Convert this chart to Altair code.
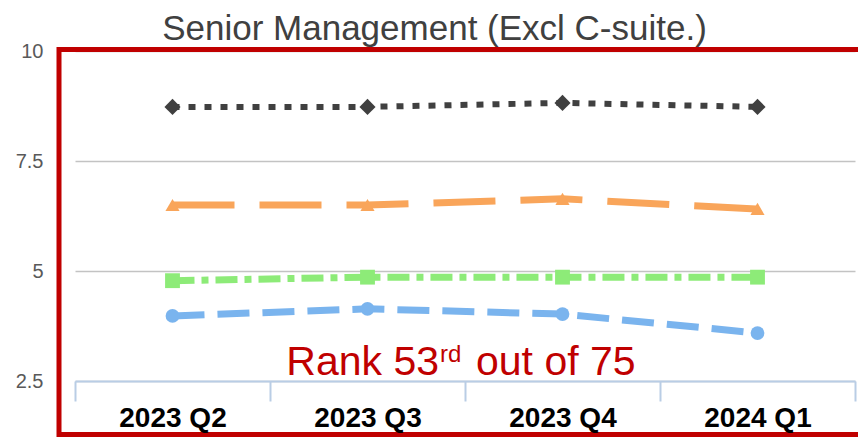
import altair as alt
import pandas as pd

# ---- data ----
quarters = ["2023 Q2", "2023 Q3", "2023 Q4", "2024 Q1"]
series_names = ["Series A", "Series B", "Series C", "Series D"]
series_a = [8.73, 8.73, 8.82, 8.73]
series_b = [6.50, 6.50, 6.64, 6.41]
series_c = [4.78, 4.86, 4.86, 4.86]
series_d = [3.98, 4.14, 4.02, 3.59]
y_ticks = [2.5, 5, 7.5, 10]
rank = 53
rank_total = 75
title_text = "Senior Management (Excl C-suite.)"

# ---- styles ----
colors = ["#404040", "#F9A55A", "#8DEB78", "#7AB4EE"]
dashes = [[7, 9], [62, 25], [22, 7, 7, 7], [32, 13]]
shapes = ["diamond", "triangle-up", "square", "circle"]
widths = [6, 7, 7, 7]
sizes = [260, 200, 220, 190]

FONT = "Liberation Sans"
RED = "#C00000"

df = pd.DataFrame({
    "quarter": quarters * 4,
    "series": [s for s in series_names for _ in quarters],
    "value": series_a + series_b + series_c + series_d,
})

x_enc = alt.X(
    "quarter:N", sort=quarters,
    scale=alt.Scale(type="band", paddingInner=0, paddingOuter=0),
    axis=alt.Axis(title=None, tickBand="extent", domainColor="#B9CDE5", domainWidth=2,
                  tickColor="#B9CDE5", tickWidth=2, tickSize=20, labelFont=FONT,
                  labelFontSize=28, labelFontWeight="bold", labelColor="#000000",
                  labelPadding=3, labelAngle=0, labelBaseline="top", zindex=1),
)
y_enc = alt.Y(
    "value:Q",
    scale=alt.Scale(domain=[2.5, 10], nice=False, zero=False),
    axis=alt.Axis(title=None, values=y_ticks, format=".1~f", domain=False, ticks=False,
                  grid=True, gridColor="#C3C3C3", gridWidth=1.5, labelFont=FONT,
                  labelFontSize=20, labelColor="#595959", labelPadding=32,
                  labelFlush=False, labelOverlap=False),
)

base = alt.Chart(df).encode(x=x_enc, y=y_enc)

layers = []
for name, c, d, sh, w, sz in zip(series_names, colors, dashes, shapes, widths, sizes):
    sub = base.transform_filter(alt.datum.series == name)
    layers.append(sub.mark_line(color=c, strokeWidth=w, strokeDash=d, strokeCap="butt"))
    layers.append(sub.mark_point(shape=sh, filled=True, size=sz, color=c, opacity=1))

one = pd.DataFrame({"k": [0]})
ttl = pd.DataFrame({"t": [title_text]})
txt = pd.DataFrame({"t": [f"Rank {rank}"]})
sup = pd.DataFrame({"t": ["rd"]})
rest = pd.DataFrame({"t": [f"out of {rank_total}"]})

title_mark = alt.Chart(ttl).mark_text(font=FONT, fontSize=35, color="#404040", align="center",
                                      baseline="alphabetic").encode(
    text="t:N", x=alt.value(359.5), y=alt.value(-11))
rank_main = alt.Chart(txt).mark_text(font=FONT, fontSize=41, color=RED, align="right",
                                     baseline="alphabetic").encode(
    text="t:N", x=alt.value(364), y=alt.value(324))
rank_sup = alt.Chart(sup).mark_text(font=FONT, fontSize=24, color=RED, align="left",
                                    baseline="alphabetic").encode(
    text="t:N", x=alt.value(365), y=alt.value(311))
rank_rest = alt.Chart(rest).mark_text(font=FONT, fontSize=41, color=RED, align="left",
                                      baseline="alphabetic").encode(
    text="t:N", x=alt.value(401), y=alt.value(324))

border = alt.Chart(one).mark_rect(filled=False, stroke=RED, strokeWidth=5).encode(
    x=alt.value(-16), x2=alt.value(786), y=alt.value(-1.5), y2=alt.value(383.5))

chart = alt.layer(*layers, rank_main, rank_sup, rank_rest, border, title_mark).properties(
    width=780, height=330,
    autosize=alt.AutoSizeParams(type="none"),
    padding={"left": 67, "top": 43, "right": 3, "bottom": 56},
).configure_view(stroke=None)

chart.save("out.html", embed_options={"renderer": "svg", "actions": False})
